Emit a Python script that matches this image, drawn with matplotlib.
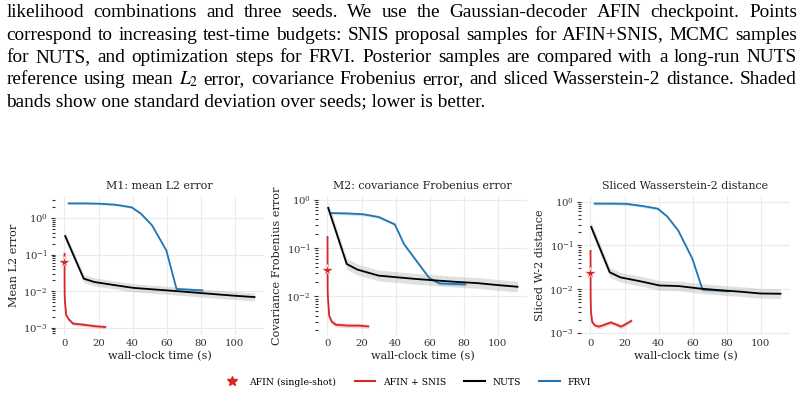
import numpy as np
import matplotlib
matplotlib.use('Agg')
import matplotlib.pyplot as plt
from matplotlib.lines import Line2D

# caption lines (figure text above the panels)
caption = [
    'likelihood combinations and three seeds.  We use the Gaussian-decoder AFIN checkpoint.  Points',
    'correspond to increasing test-time budgets: SNIS proposal samples for AFIN+SNIS, MCMC samples',
    'for NUTS, and optimization steps for FRVI. Posterior samples are compared with a long-run NUTS',
    'reference using mean $L_2$ error, covariance Frobenius error, and sliced Wasserstein-2 distance. Shaded',
    'bands show one standard deviation over seeds; lower is better.',
]

titles = ['M1: mean L2 error', 'M2: covariance Frobenius error', 'Sliced Wasserstein-2 distance']
ylabels = ['Mean L2 error', 'Covariance Frobenius error', 'Sliced W-2 distance']

# AFIN single-shot
star_val = [0.061, 0.035, 0.0235]

# AFIN + SNIS
snis_t = [0.02, 0.05, 0.1, 0.3, 1.0, 2.5, 5.0, 12.0, 18.0, 24.0]
snis_m1 = [0.105, 0.02, 0.008, 0.005, 0.0022, 0.0017, 0.0013, 0.0012, 0.0011, 0.00105]
snis_m2 = [0.17, 0.04, 0.013, 0.009, 0.0040, 0.0030, 0.0026, 0.0025, 0.0025, 0.0024]
snis_sw = [0.075, 0.02, 0.006, 0.003, 0.0018, 0.0015, 0.0014, 0.00175, 0.0014, 0.0019]

# NUTS
nuts_t = [0.4, 11.3, 17.5, 30.0, 40.5, 52.0, 64.0, 76.0, 88.0, 100.0, 111.6]
nuts_m1 = [0.32, 0.022, 0.0178, 0.0145, 0.0123, 0.0112, 0.0102, 0.0092, 0.0083, 0.0075, 0.0069]
nuts_m2 = [0.68, 0.047, 0.036, 0.027, 0.025, 0.023, 0.0214, 0.0200, 0.0189, 0.0172, 0.0159]
nuts_sw = [0.265, 0.0244, 0.0187, 0.0150, 0.0122, 0.0118, 0.0104, 0.0095, 0.0088, 0.0080, 0.0079]

# FRVI
frvi_t = [2.4, 12.0, 21.0, 30.0, 39.5, 45.0, 51.5, 59.8, 65.8, 81.0]
frvi_m1 = [2.5, 2.5, 2.45, 2.3, 1.95, 1.3, 0.62, 0.13, 0.0115, 0.0105]
frvi_m2 = [0.53, 0.52, 0.50, 0.44, 0.31, 0.12, 0.059, 0.024, 0.0186, 0.0178]
frvi_sw = [0.9, 0.9, 0.89, 0.8, 0.69, 0.46, 0.22, 0.05, 0.0098, 0.0091]

RED = '#d62728'
BLUE = '#1f77b4'

plt.rcParams['font.family'] = 'DejaVu Serif'
plt.rcParams['mathtext.fontset'] = 'dejavuserif'

fig = plt.figure(figsize=(8.04, 4.19), dpi=100)
W, H = 804, 419

# caption, justified like the paper text
renderer = fig.canvas.get_renderer()
baselines = [17.2, 39.5, 61.8, 84.1, 106.4]
x0, x1 = 6.5, 797.0
csize = 13.9
for i, line in enumerate(caption):
    y = 1 - baselines[i] / H
    if i == len(caption) - 1:
        fig.text(x0 / W, y, line, family='Liberation Serif', fontsize=csize, va='baseline',
                 math_fontfamily='stix')
        continue
    words = line.split()
    texts = [fig.text(0, y, w, family='Liberation Serif', fontsize=csize, va='baseline',
                      math_fontfamily='stix') for w in words]
    widths = [t.get_window_extent(renderer).width for t in texts]
    gap = (x1 - x0 - sum(widths)) / (len(words) - 1)
    x = x0
    for t, w in zip(texts, widths):
        t.set_x(x / W)
        x += w + gap

lefts = [55, 318, 581]
series = [
    (snis_m1, nuts_m1, frvi_m1),
    (snis_m2, nuts_m2, frvi_m2),
    (snis_sw, nuts_sw, frvi_sw),
]

for k in range(3):
    ax = fig.add_axes([lefts[k] / W, 1 - 335 / H, 209 / W, 139 / H])
    snis, nuts, frvi = [np.array(s) for s in series[k]]

    ax.fill_between(nuts_t, nuts * 0.78, nuts * 1.3, color='#9a9a9a', alpha=0.3, lw=0)
    ax.fill_between(frvi_t, frvi * 0.93, frvi * 1.07, color=BLUE, alpha=0.2, lw=0)
    ax.fill_between(snis_t, snis * 0.9, snis * 1.12, color=RED, alpha=0.2, lw=0)

    ax.plot(frvi_t, frvi, color=BLUE, lw=1.3)
    ax.plot(nuts_t, nuts, color='black', lw=1.3)
    ax.plot(snis_t, snis, color=RED, lw=1.3)
    ax.plot([0], [star_val[k]], marker='*', color=RED, ms=8.5, mec='white', mew=0.5, ls='none', zorder=5)

    ax.set_yscale('log')
    ax.set_xticks([0, 20, 40, 60, 80, 100])
    ax.set_title(titles[k], fontsize=7.9, color='#222222', pad=5)
    ax.set_xlabel('wall-clock time (s)', fontsize=8.1, color='#222222', labelpad=2)
    ax.set_ylabel(ylabels[k], fontsize=8.1, color='#222222', labelpad=3)
    ax.grid(True, which='major', color='#ebebeb', lw=0.8)
    ax.set_axisbelow(True)
    for s in ax.spines.values():
        s.set_visible(False)
    ax.tick_params(axis='x', length=0, labelsize=7.3, colors='#333333', pad=3)
    ax.tick_params(axis='y', which='major', length=3, width=0.8, labelsize=7.3, colors='#333333', pad=2)
    ax.tick_params(axis='y', which='minor', length=2, width=0.8, colors='#333333')

handles = [
    Line2D([], [], marker='*', color=RED, ls='none', ms=7),
    Line2D([], [], color=RED, lw=1.5),
    Line2D([], [], color='black', lw=1.5),
    Line2D([], [], color=BLUE, lw=1.5),
]
labels = ['AFIN (single-shot)', 'AFIN + SNIS', 'NUTS', 'FRVI']
fig.legend(handles, labels, loc='center', bbox_to_anchor=(0.505, 1 - 382 / H), ncol=4,
           frameon=False, fontsize=6.7, handlelength=2.2, columnspacing=2.0, handletextpad=0.8)

fig.savefig('out.png', dpi=100)
